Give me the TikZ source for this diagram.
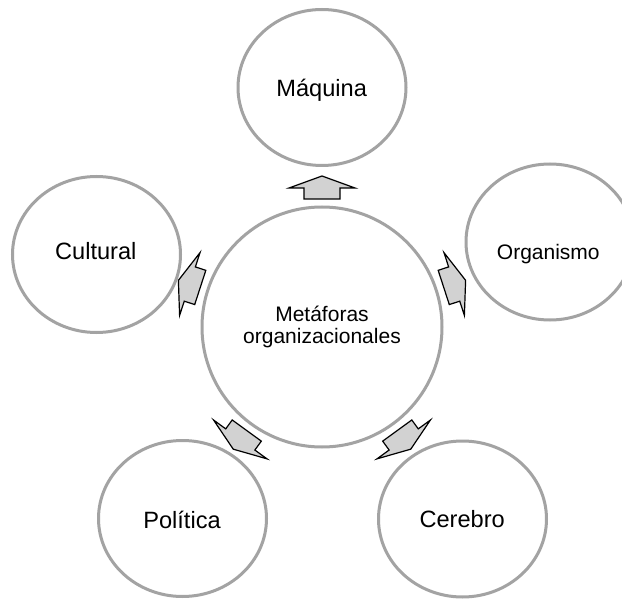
\documentclass[tikz,border=0pt]{standalone}
\usepackage{fontspec}
\setmainfont{Liberation Sans}
\usetikzlibrary{shapes.geometric}
\definecolor{ringgray}{RGB}{163,163,163}
\definecolor{arrowfill}{RGB}{210,210,210}
\begin{document}
\begin{tikzpicture}[x=1pt,y=-1pt,
  hubring/.style={circle,draw=ringgray,line width=3pt,minimum size=240pt,inner sep=0pt},
  petal/.style={ellipse,draw=ringgray,line width=3pt,minimum width=168pt,minimum height=156pt,inner sep=0pt},
  caption/.style={anchor=base,inner sep=0pt,font=\fontsize{23.6}{28}\selectfont},
  smallcap/.style={anchor=base,inner sep=0pt,font=\fontsize{21}{25}\selectfont},
  spoke/.style={draw=black,fill=arrowfill,line width=1.2pt,line join=miter,miter limit=20}]
\useasboundingbox (0,0) rectangle (622,599);
\fill[white] (0,0) rectangle (622,599);

% central circle and the five surrounding ellipses
\node[hubring] (hub) at (322,327) {};
\node[petal] (maquina)   at (322,87.5)    {};
\node[petal] (organismo) at (550,242)     {};
\node[petal] (cerebro)   at (462.5,519)   {};
\node[petal] (politica)  at (182.5,518.5) {};
\node[petal] (cultural)  at (96.5,254.5)  {};

% labels
\node[smallcap] (hubtop) at (322,321.7) {Metáforas};
\node[smallcap] (hubbot) at (322,343.3) {organizacionales};
\node[caption] (tmaquina)   at (321.7,96.7) {Máquina};
\node[smallcap] (torganismo) at (548.3,260)  {Organismo};
\node[caption] (tcerebro)   at (462.2,527.5) {Cerebro};
\node[caption] (tpolitica)  at (182,528.5)   {Política};
\node[caption] (tcultural)  at (95.8,260)    {Cultural};

% outward block arrows from the central circle
\foreach \a in {90,18,-54,-126,162}
  \draw[spoke, shift={(hub.center)}, rotate=\a]
    (128,18) -- (139,18) -- (139,33) -- (151,0) -- (139,-33) -- (139,-18) -- (128,-18) -- cycle;
\end{tikzpicture}
\end{document}
